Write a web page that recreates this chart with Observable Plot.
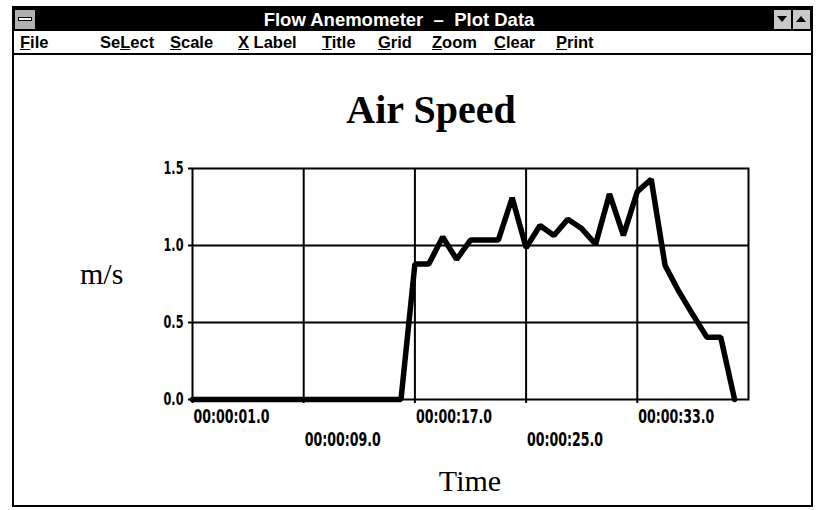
<!DOCTYPE html>
<html>
<head>
<meta charset="utf-8">
<script src="https://cdn.jsdelivr.net/npm/d3@7"></script>
<script src="https://cdn.jsdelivr.net/npm/@observablehq/plot@0.6"></script>
<style>
  html, body { margin:0; padding:0; background:#fff; }
  body { width:823px; height:510px; overflow:hidden; position:relative; font-family:"Liberation Sans", Arial, sans-serif; color:#000; }
  .abs { position:absolute; }
  #chart { position:absolute; left:0; top:0; }
  #win { left:12px; top:6px; width:797px; height:497px; border:2px solid #000; }
  #titlebar { left:14px; top:8px; width:797px; height:23px; background:#000; }
  #titletext { left:199px; top:8px; width:400px; height:23px; line-height:23px; text-align:center; color:#fff; font-size:18.5px; font-weight:bold; white-space:pre; }
  #ctl { left:15px; top:10px; width:20px; height:19px; background:#b0b0b0; }
  #ctlbar { left:18px; top:17px; width:14px; height:4px; background:#fff; border:1px solid #000; box-sizing:border-box; }
  .btn { top:10px; width:17px; height:19px; background:#c8c8c8; }
  .tri { width:0; height:0; border-left:5px solid transparent; border-right:5px solid transparent; }
  #menuline { left:14px; top:53px; width:797px; height:2px; background:#000; }
  .menu { top:32px; font-size:16.5px; font-weight:bold; line-height:21px; }
  #title { left:231px; top:88px; width:400px; text-align:center; font-family:"Liberation Serif","Times New Roman",serif; font-weight:bold; font-size:40px; line-height:44px; }
  #ylab { left:80px; top:257px; font-family:"Liberation Serif","Times New Roman",serif; font-size:30px; line-height:34px; }
  #xlab { left:370px; top:464px; width:200px; text-align:center; font-family:"Liberation Serif","Times New Roman",serif; font-size:30px; line-height:34px; }
</style>
</head>
<body>
<div id="chart"></div>
<div id="win" class="abs"></div>
<div id="titlebar" class="abs"></div>
<div id="titletext" class="abs">Flow Anemometer  –  Plot Data</div>
<div id="ctl" class="abs"></div>
<div id="ctlbar" class="abs"></div>
<div class="abs btn" style="left:774px"></div>
<div class="abs tri" style="left:777px;top:16px;border-top:6px solid #000;"></div>
<div class="abs btn" style="left:793px"></div>
<div class="abs tri" style="left:796px;top:16px;border-bottom:6px solid #000;"></div>
<div id="menuline" class="abs"></div>
<div class="abs menu" style="left:20px"><u>F</u>ile</div>
<div class="abs menu" style="left:100px">Se<u>L</u>ect</div>
<div class="abs menu" style="left:170px"><u>S</u>cale</div>
<div class="abs menu" style="left:238px"><u>X</u> Label</div>
<div class="abs menu" style="left:322px"><u>T</u>itle</div>
<div class="abs menu" style="left:378px"><u>G</u>rid</div>
<div class="abs menu" style="left:432px"><u>Z</u>oom</div>
<div class="abs menu" style="left:494px"><u>C</u>lear</div>
<div class="abs menu" style="left:556px"><u>P</u>rint</div>
<div id="title" class="abs">Air Speed</div>
<div id="ylab" class="abs">m/s</div>
<div id="xlab" class="abs">Time</div>
<script>
// Elapsed time in seconds (one sample per second)
const seconds = [1,2,3,4,5,6,7,8,9,10,11,12,13,14,15,16,17,18,19,20,
                 21,22,23,24,25,26,27,28,29,30,31,32,33,34,35,36,37,38,39,40];
// Air speed in m/s
const speed = [0,0,0,0,0,0,0,0,0,0,0,0,0,0,0,0,0.88,0.88,1.055,0.91,
               1.035,1.035,1.035,1.31,0.985,1.13,1.065,1.17,1.11,1.008,1.335,1.066,1.35,1.43,0.87,0.70,0.55,0.405,0.405,0];
const xTicks = [1,9,17,25,33];
const xTickLabels = ["00:00:01.0","00:00:09.0","00:00:17.0","00:00:25.0","00:00:33.0"];
const yTicks = [0,0.5,1.0,1.5];
const yTickLabels = ["0.0","0.5","1.0","1.5"];

const data = seconds.map((t,i) => ({t, v: speed[i]}));
const fmtX = t => xTickLabels[xTicks.indexOf(t)];
const fmtY = v => yTickLabels[yTicks.indexOf(v)];
const row1 = xTicks.filter((d,i) => i % 2 === 0);
const row2 = xTicks.filter((d,i) => i % 2 === 1);

const chart = Plot.plot({
  width: 823, height: 510,
  marginLeft: 192, marginRight: 75, marginTop: 168, marginBottom: 111,
  x: {domain: [1, 41], label: null},
  y: {domain: [0, 1.5], label: null},
  style: {fontFamily: '"DejaVu Sans",sans-serif', fontSize: "17px", fontWeight: "bold", color: "#000", background: "transparent", overflow: "visible"},
  marks: [
    Plot.gridX(xTicks.slice(1), {stroke: "#000", strokeOpacity: 1, strokeWidth: 2}),
    Plot.gridY([0.5, 1.0], {stroke: "#000", strokeOpacity: 1, strokeWidth: 2}),
    Plot.frame({stroke: "#000", strokeWidth: 2}),
    Plot.axisY(yTicks, {tickSize: 4, tickPadding: 5, tickFormat: fmtY, label: null, strokeWidth: 2, fontSize: 17}),
    Plot.axisX(xTicks, {tickSize: 4, tickFormat: () => "", label: null, strokeWidth: 2}),
    Plot.axisX(row1, {tickSize: 0, tickPadding: 10, textAnchor: "start", dx: 1, tickFormat: fmtX, label: null, fontSize: 19}),
    Plot.axisX(row2, {tickSize: 0, tickPadding: 33, textAnchor: "start", dx: 1, tickFormat: fmtX, label: null, fontSize: 19}),
    Plot.line(data, {x: "t", y: "v", stroke: "#000", strokeWidth: 5.5, strokeLinejoin: "miter"})
  ]
});
// narrow the tick label glyphs like the original condensed font
chart.querySelectorAll('g[aria-label="x-axis tick label"] text').forEach(t => {
  if (t.textContent) { t.setAttribute("textLength", 76); t.setAttribute("lengthAdjust", "spacingAndGlyphs"); }
});
chart.querySelectorAll('g[aria-label="y-axis tick label"] text').forEach(t => {
  t.setAttribute("textLength", 20); t.setAttribute("lengthAdjust", "spacingAndGlyphs");
});
document.getElementById("chart").appendChild(chart);
</script>
</body>
</html>
